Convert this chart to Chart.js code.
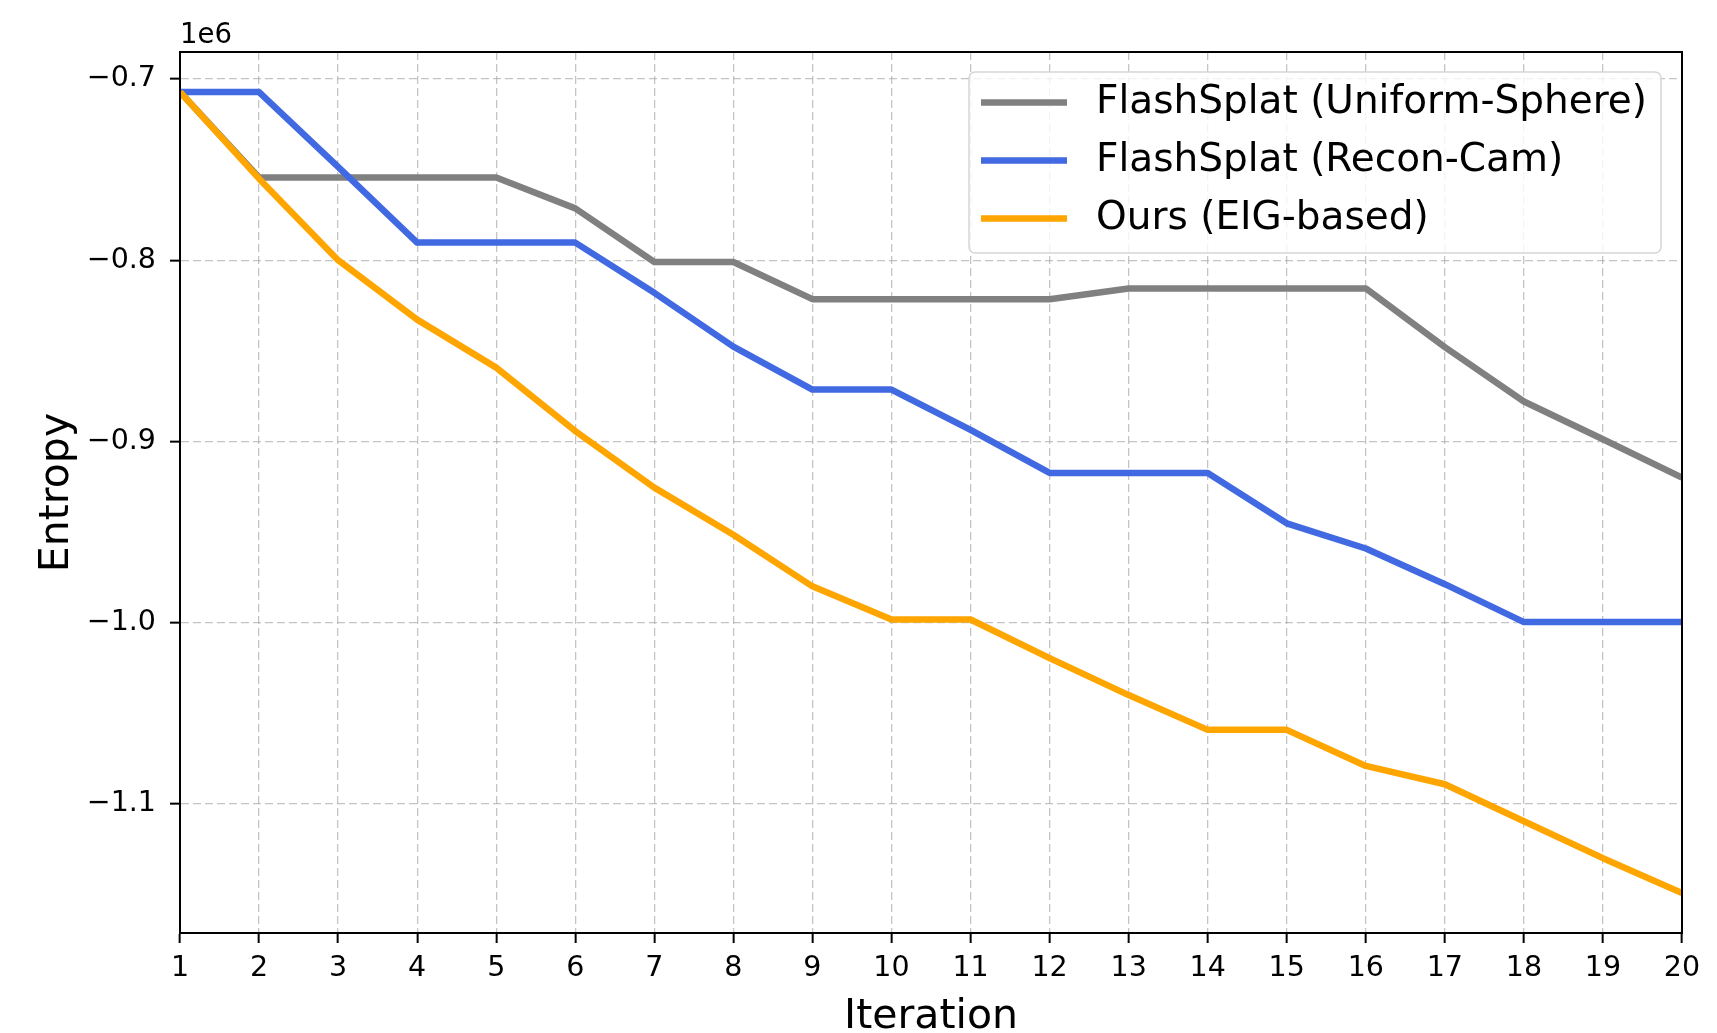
<!DOCTYPE html>
<html>
<head>
<meta charset="utf-8">
<script src="https://cdn.jsdelivr.net/npm/chart.js@4.4.1/dist/chart.umd.min.js"></script>
<style>
html,body{margin:0;padding:0;background:#ffffff;overflow:hidden}
#wrap{width:1717px;height:1033px;position:relative}
</style>
</head>
<body>
<div id="wrap"><canvas id="c" width="1717" height="1033"></canvas></div>
<script>
// ---- data ----
const iterations = [1, 2, 3, 4, 5, 6, 7, 8, 9, 10, 11, 12, 13, 14, 15, 16, 17, 18, 19, 20];
const uniformSphere = [-707200, -754400, -754400, -754400, -754400, -771400, -801000, -801000, -821500, -821500, -821500, -821500, -815600, -815600, -815600, -815600, -848000, -878000, -898800, -920000];
const reconCam = [-707200, -707200, -748500, -790300, -790300, -790300, -818000, -847700, -871400, -871400, -893600, -917400, -917400, -917400, -945200, -959100, -978800, -999700, -999700, -999700];
const oursEIG = [-707200, -755000, -800000, -832800, -859300, -894300, -925500, -951500, -980000, -998300, -998300, -1019600, -1040000, -1059200, -1059200, -1079100, -1089200, -1109600, -1130000, -1149200];
const seriesLabels = ['FlashSplat (Uniform-Sphere)', 'FlashSplat (Recon-Cam)', 'Ours (EIG-based)'];
const seriesColors = ['#808080', '#4169E1', '#FFA500'];
const yTickValues = [-700000, -800000, -900000, -1000000, -1100000];
const yAxisMin = -1171300;
const yAxisMax = -685100;
const xTitle = 'Iteration';
const yTitle = 'Entropy';
const offsetText = '1e6';

// ---- styles ----
const FONT = "'DejaVu Sans', sans-serif";
const TICK_SIZE = 28.5;
const GRID_COLOR = 'rgba(165,165,165,0.65)';

const framePlugin = {
  id: 'frame',
  afterDatasetsDraw(chart) {
    const a = chart.chartArea, ctx = chart.ctx;
    ctx.save();
    ctx.strokeStyle = '#000000';
    ctx.lineWidth = 2;
    ctx.setLineDash([]);
    ctx.strokeRect(a.left, a.top, a.right - a.left, a.bottom - a.top);
    ctx.restore();
  }
};

const legendPlugin = {
  id: 'boxLegend',
  afterDraw(chart) {
    const a = chart.chartArea, ctx = chart.ctx;
    const bw = 692, bh = 181;
    const bx = a.right - 21 - bw, by = a.top + 20;
    ctx.save();
    ctx.setLineDash([]);
    ctx.beginPath();
    if (ctx.roundRect) ctx.roundRect(bx, by, bw, bh, 6); else ctx.rect(bx, by, bw, bh);
    ctx.fillStyle = 'rgba(255,255,255,0.8)';
    ctx.fill();
    ctx.strokeStyle = '#d6d6d6';
    ctx.lineWidth = 1.5;
    ctx.stroke();
    ctx.font = '39px ' + FONT;
    ctx.textBaseline = 'middle';
    ctx.textAlign = 'left';
    chart.data.datasets.forEach((ds, i) => {
      const y = by + 30.5 + i * 58;
      ctx.beginPath();
      ctx.moveTo(bx + 12, y);
      ctx.lineTo(bx + 98, y);
      ctx.strokeStyle = ds.borderColor;
      ctx.lineWidth = 6.5;
      ctx.lineCap = 'butt';
      ctx.stroke();
      ctx.fillStyle = '#000000';
      ctx.fillText(ds.label, bx + 127, y);
    });
    ctx.restore();
  }
};

const seriesData = [uniformSphere, reconCam, oursEIG];
const datasets = seriesData.map((d, i) => ({
  label: seriesLabels[i],
  data: d,
  borderColor: seriesColors[i],
  backgroundColor: seriesColors[i],
  borderWidth: 6.5,
  pointRadius: 0,
  pointHoverRadius: 0,
  tension: 0,
  fill: false,
  clip: 0,
  borderJoinStyle: 'round',
  borderCapStyle: 'butt',
  order: 3 - i
}));

const gridOpts = {
  display: true,
  color: GRID_COLOR,
  lineWidth: 1.3,
  drawTicks: true,
  tickLength: 10,
  tickColor: '#000000',
  tickWidth: 2,
  tickBorderDash: []
};
const borderOpts = { display: true, color: '#000000', width: 2, dash: [8, 4] };

new Chart(document.getElementById('c'), {
  type: 'line',
  data: { labels: iterations.map(String), datasets },
  options: {
    responsive: false,
    animation: false,
    devicePixelRatio: 1,
    layout: { padding: { top: 0, left: 0, right: 35, bottom: 0 } },
    plugins: {
      legend: { display: false },
      tooltip: { enabled: false },
      title: {
        display: true,
        text: offsetText,
        align: 'start',
        position: 'top',
        fullSize: false,
        color: '#000000',
        font: { family: FONT, size: 27.5, weight: 'normal', lineHeight: 1 },
        padding: { top: 22.25, bottom: 2.25 }
      }
    },
    scales: {
      x: {
        type: 'category',
        offset: false,
        afterFit(s) { s.height = 100; },
        grid: gridOpts,
        border: borderOpts,
        ticks: {
          autoSkip: false,
          maxRotation: 0,
          minRotation: 0,
          padding: 8,
          color: '#000000',
          font: { family: FONT, size: TICK_SIZE, lineHeight: 1.2 }
        },
        title: {
          display: true,
          text: xTitle,
          color: '#000000',
          font: { family: FONT, size: 41, lineHeight: 0.78 },
          padding: { top: 0, bottom: 0 }
        }
      },
      y: {
        type: 'linear',
        min: yAxisMin,
        max: yAxisMax,
        afterFit(s) { s.width = 180; },
        afterBuildTicks(s) { s.ticks = yTickValues.map(v => ({ value: v })); },
        grid: gridOpts,
        border: borderOpts,
        ticks: {
          padding: 14,
          color: '#000000',
          font: { family: FONT, size: TICK_SIZE, lineHeight: 1.2 },
          callback: (v) => (v / 1e6).toFixed(1).replace('-', '\u2212')
        },
        title: {
          display: true,
          text: yTitle,
          color: '#000000',
          font: { family: FONT, size: 41, lineHeight: 1 },
          padding: { top: 37, bottom: 0 }
        }
      }
    }
  },
  plugins: [framePlugin, legendPlugin]
});
</script>
</body>
</html>
